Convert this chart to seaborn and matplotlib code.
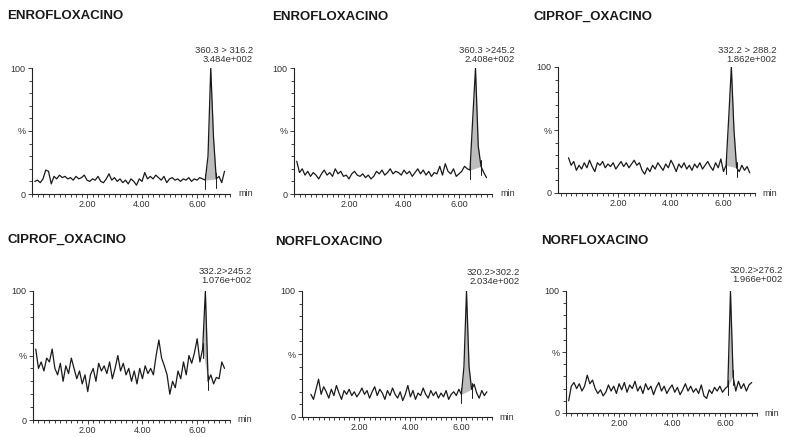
import numpy as np
import matplotlib
matplotlib.use("Agg")
import matplotlib.pyplot as plt
from matplotlib.ticker import MultipleLocator, FixedLocator
import seaborn as sns

# ---------------- data ----------------
time_min = np.round(np.linspace(0.1, 7.0, 70), 1)

titles = ["ENROFLOXACINO", "ENROFLOXACINO", "CIPROF_OXACINO",
          "CIPROF_OXACINO", "NORFLOXACINO", "NORFLOXACINO"]
transitions = ["360.3 > 316.2", "360.3 >245.2", "332.2 > 288.2",
               "332.2>245.2", "320.2>302.2", "320.2>276.2"]
intensities = ["3.484e+002", "2.408e+002", "1.862e+002",
               "1.076e+002", "2.034e+002", "1.966e+002"]

enro_316 = [10, 11, 9, 12, 19, 18, 8, 14, 12, 15, 13, 14, 12, 13, 11, 14, 12, 13, 15, 11,
            10, 12, 11, 14, 10, 9, 12, 16, 11, 13, 10, 12, 9, 11, 8, 12, 10, 7, 12, 10,
            17, 12, 14, 12, 15, 13, 11, 14, 9, 12, 13, 11, 12, 10, 12, 11, 13, 10, 12, 11,
            13, 12, 11, 30, 100, 45, 12, 14, 9, 18]
enro_245 = [26, 17, 20, 15, 18, 14, 17, 15, 12, 16, 19, 15, 17, 14, 20, 16, 18, 14, 15, 12,
            16, 18, 15, 14, 16, 13, 15, 12, 14, 18, 16, 19, 15, 17, 20, 16, 18, 17, 15, 19,
            16, 18, 14, 17, 20, 16, 19, 15, 18, 14, 17, 16, 22, 15, 24, 18, 16, 20, 14, 16,
            18, 22, 20, 19, 60, 100, 38, 22, 17, 13]
cipro_288 = [28, 22, 25, 18, 22, 19, 24, 20, 26, 21, 17, 24, 22, 25, 20, 23, 21, 24, 19, 22,
             25, 21, 24, 20, 23, 26, 22, 24, 18, 15, 20, 17, 22, 19, 24, 21, 18, 23, 20, 26,
             22, 17, 23, 20, 24, 19, 22, 18, 23, 20, 24, 19, 22, 25, 21, 18, 24, 20, 27, 17,
             22, 60, 100, 50, 20, 17, 22, 18, 21, 16]
cipro_245 = [55, 40, 45, 38, 48, 45, 55, 40, 35, 44, 30, 42, 36, 48, 40, 32, 38, 28, 35, 22,
             35, 40, 30, 44, 38, 42, 36, 45, 32, 40, 50, 38, 44, 35, 40, 30, 38, 28, 40, 32,
             42, 36, 40, 35, 50, 62, 48, 42, 35, 20, 30, 25, 38, 32, 45, 35, 50, 44, 52, 63,
             45, 55, 100, 30, 35, 28, 33, 32, 45, 40]
norf_302 = [18, 14, 22, 30, 18, 24, 20, 15, 22, 17, 25, 19, 14, 21, 18, 22, 17, 20, 16, 19,
            23, 18, 21, 15, 20, 24, 17, 22, 19, 14, 21, 17, 23, 18, 15, 20, 13, 18, 25, 16,
            21, 14, 19, 17, 23, 18, 15, 21, 17, 20, 15, 19, 16, 21, 14, 18, 20, 17, 22, 18,
            40, 100, 40, 22, 26, 19, 15, 21, 17, 20]
norf_276 = [10, 22, 25, 20, 24, 18, 22, 31, 24, 27, 20, 16, 19, 14, 17, 23, 18, 22, 16, 24,
            19, 25, 17, 23, 20, 26, 18, 22, 16, 24, 19, 22, 15, 21, 25, 18, 22, 16, 20, 23,
            17, 21, 15, 19, 24, 18, 22, 17, 20, 16, 23, 14, 12, 19, 16, 21, 18, 22, 17, 20,
            22, 100, 30, 18, 26, 20, 24, 18, 23, 25]

series = [enro_316, enro_245, cipro_288, cipro_245, norf_302, norf_276]
peak_start = [6.3, 6.4, 6.1, 6.2, 6.0, 6.1]
peak_end = [6.7, 6.8, 6.5, 6.4, 6.4, 6.3]

# ---------------- layout (pixels) ----------------
W, H = 785, 437
# left, top(y=100), right, bottom(y=0)
boxes = [(32, 68, 230, 194), (294, 68, 492, 194), (558, 67, 755, 193),
         (33, 291, 230, 420), (302, 291, 492, 417), (566, 291, 757, 413)]
xstarts = [0.0, 0.0, -0.3, 0.0, -0.25, 0.0]
title_pos = [(7, 16), (272, 17), (534, 17), (7, 240), (275, 242), (541, 241)]
label_pos = [(253, 55), (515, 55), (777, 55), (252, 276), (520, 277), (783, 275)]

sns.set_style("ticks")
plt.rcParams['font.family'] = ['Liberation Sans', 'DejaVu Sans']

fig = plt.figure(figsize=(W / 100, H / 100), dpi=100)

for i in range(6):
    l, t, r, b = boxes[i]
    ax = fig.add_axes([l / W, 1 - b / H, (r - l) / W, (b - t) / H])
    y = np.array(series[i], dtype=float)
    sns.lineplot(x=time_min, y=y, ax=ax, color="#1a1a1a", linewidth=0.9)

    # integrated peak area
    s, e = peak_start[i], peak_end[i]
    ys, ye = np.interp(s, time_min, y), np.interp(e, time_min, y)
    mask = (time_min >= s - 1e-9) & (time_min <= e + 1e-9)
    base = ys + (ye - ys) * (time_min[mask] - s) / (e - s)
    ax.fill_between(time_min[mask], base, y[mask], color="#bdbdbd", linewidth=0, zorder=1)
    for xb, yb in ((s, ys), (e, ye)):
        ax.plot([xb, xb], [yb - 7, yb + 5], color="#1a1a1a", linewidth=0.7)

    ax.set_xlim(xstarts[i], 7.2)
    ax.set_ylim(0, 100)
    for sp in ("top", "right"):
        ax.spines[sp].set_visible(False)
    for sp in ("left", "bottom"):
        ax.spines[sp].set_linewidth(0.8)
        ax.spines[sp].set_color("#222222")
    ax.xaxis.set_major_locator(FixedLocator([2, 4, 6]))
    ax.set_xticklabels(["2.00", "4.00", "6.00"])
    ax.xaxis.set_minor_locator(MultipleLocator(0.2))
    ax.yaxis.set_major_locator(FixedLocator([0, 50, 100]))
    ax.set_yticklabels(["0", "%", "100"])
    ax.yaxis.set_minor_locator(MultipleLocator(10))
    ax.tick_params(which="both", direction="out", width=0.6, color="#222222",
                   labelsize=6.5, labelcolor="#333333", pad=1.5)
    ax.tick_params(which="major", length=3)
    ax.tick_params(which="minor", length=2.5)
    ax.set_xlabel("")
    ax.set_ylabel("")
    ax.text(1.04, 0, "min", transform=ax.transAxes, va="center", ha="left",
            fontsize=6.5, color="#333333")

    tx, ty = title_pos[i]
    fig.text(tx / W, 1 - ty / H, titles[i], fontsize=9.5, fontweight="bold",
             color="#1a1a1a", ha="left", va="center")
    lx, ly = label_pos[i]
    fig.text(lx / W, 1 - ly / H, transitions[i] + "\n" + intensities[i], fontsize=6.8,
             color="#333333", ha="right", va="center", linespacing=1.05)

fig.savefig("out.png", dpi=100, facecolor="white")
